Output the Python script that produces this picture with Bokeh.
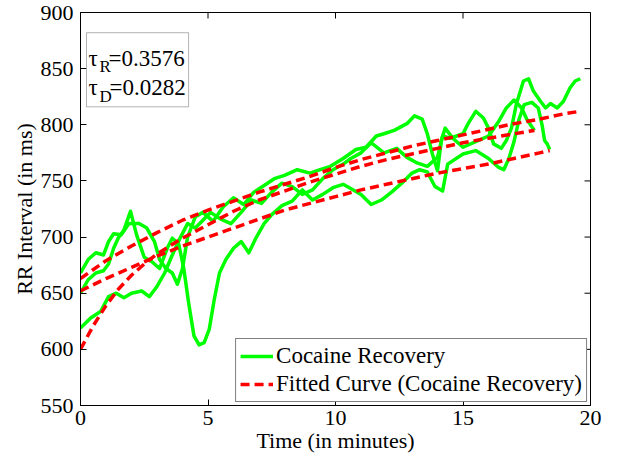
import math
from bokeh.plotting import figure
from bokeh.models import (Range1d, FixedTicker, Legend, LegendItem,
                          BoxAnnotation, Label)
from bokeh.embed import file_html
from bokeh.resources import INLINE

# ---------------- data ----------------
x_ticks = [0, 5, 10, 15, 20]
y_ticks = [550, 600, 650, 700, 750, 800, 850, 900]

# green recordings
t_g1 = [0, 0.3, 0.6, 0.9, 1.1, 1.3, 1.5, 1.7, 1.96, 2.2, 2.5, 2.8, 3.1, 3.4, 3.6, 3.85,
        4.05, 4.25, 4.45, 4.65, 4.85, 5.05, 5.25, 5.45, 5.7, 6.0, 6.3, 6.6, 6.9, 7.2,
        7.5, 7.9, 8.3, 8.7, 9.1, 9.5, 9.9, 10.3, 10.7, 11.0, 11.4, 11.8, 12.2, 12.6,
        13.0, 13.3, 13.6, 13.9, 14.2, 14.4, 15.0, 15.5, 16.0, 16.4, 16.6, 16.8, 17.0,
        17.2, 17.4, 17.7, 17.95, 18.1, 18.2, 18.3, 18.4]
rr_g1 = [650, 662, 668, 670, 676, 690, 700, 706, 723, 702, 682, 678, 672, 690, 699, 694,
         672, 640, 612, 604, 606, 618, 645, 668, 680, 690, 696, 686, 700, 712,
         720, 728, 732, 742, 733, 738, 744, 747, 742, 738, 729, 733, 740, 748,
         757, 760, 758, 745, 741, 765, 774, 777, 770, 762, 760, 770, 785,
         805, 818, 820, 815, 800, 786, 783, 778]

t_g2 = [0, 0.3, 0.6, 0.9, 1.1, 1.3, 1.6, 1.9, 2.3, 2.6, 2.9, 3.1, 3.35, 3.6, 3.8, 4.0,
        4.2, 4.5, 4.8, 5.2, 5.6, 6.0, 6.4, 6.8, 7.2, 7.6, 8.0, 8.5, 9.0, 9.4, 9.8,
        10.3, 10.8, 11.2, 11.6, 11.9, 12.3, 12.8, 13.1, 13.4, 13.6, 13.8, 14.0, 14.15,
        14.3, 14.6, 15.0, 15.5, 16.0, 16.4, 16.7, 17.0, 17.3, 17.5, 17.8]
rr_g2 = [668, 680, 686, 684, 696, 703, 702, 712, 712, 708, 696, 680, 672, 668, 658, 672,
         700, 718, 722, 714, 727, 735, 729, 740, 746, 752, 755, 760, 757, 760, 763,
         770, 778, 780, 790, 792, 795, 801, 808, 805, 792, 774, 759, 786,
         797, 788, 780, 785, 790, 803, 815, 822, 815, 805, 795]

t_g3 = [0, 0.4, 0.8, 1.1, 1.4, 1.7, 2.0, 2.4, 2.7, 3.0, 3.3, 3.6, 3.9, 4.2, 4.5, 4.8,
        5.1, 5.5, 5.9, 6.3, 6.7, 7.1, 7.5, 7.9, 8.3, 8.7, 9.1, 9.5, 9.9, 10.3, 10.6,
        11.0, 11.4, 11.9, 12.4, 12.8, 13.2, 13.6, 14.0, 14.2, 14.5, 15.0, 15.2, 15.5,
        15.8, 16.0, 16.2, 16.5, 16.7, 16.9, 17.1, 17.37, 17.57, 17.76, 18.04, 18.24,
        18.43, 18.7, 18.94, 19.2, 19.4, 19.6]
rr_g3 = [619, 628, 634, 647, 650, 646, 650, 652, 647, 656, 668, 684, 699, 712, 708, 715,
         722, 716, 712, 722, 733, 730, 740, 748, 745, 738, 742, 752, 760, 765, 770,
         775, 784, 775, 779, 771, 766, 763, 771, 790, 788, 792, 801, 812,
         806, 797, 783, 779, 786, 797, 819, 839, 841, 830, 821, 815,
         819, 815, 821, 833, 839, 841]

# red fitted curves
t_f1 = [0, 1, 2, 3, 4, 5, 6, 7, 8, 9, 10, 11, 12, 13, 14, 15, 16, 17, 18, 19, 19.6]
rr_f1 = [663, 679, 692, 704, 715, 724, 732, 740, 747, 754, 762, 769, 775, 781, 786, 791,
         796, 801, 805, 810, 812]

t_f2 = [0, 1, 2, 3, 4, 5, 6, 7, 8, 9, 10, 11, 12, 13, 14, 15, 16, 17, 18, 18.4]
rr_f2 = [652, 663, 673, 683, 692, 700, 708, 716, 724, 730, 736, 742, 747, 752, 757, 761,
         765, 770, 775, 777]

t_f3 = [0, 0.5, 1, 1.5, 2, 2.5, 3, 3.5, 4, 5, 6, 7, 8, 9, 10, 11, 12, 13, 14, 15, 16,
        17, 17.8]
rr_f3 = [600, 621, 639, 654, 666, 676, 685, 692, 699, 711, 723, 733, 741, 749, 756, 763,
         769, 774, 779, 784, 788, 792, 795]

# ---------------- figure ----------------
FONT = "Liberation Serif"
GREEN = "#00ff00"
RED = "#ff0000"
X0, X1 = 0, 20
Y0, Y1 = 550, 900

p = figure(width=618, height=455, output_backend="svg", toolbar_location=None,
           x_range=Range1d(X0, X1), y_range=Range1d(Y0, Y1),
           min_border_left=80, min_border_right=28, min_border_top=12,
           min_border_bottom=45)
p.background_fill_color = "white"
p.border_fill_color = "white"
p.outline_line_color = "black"
p.outline_line_width = 1
p.grid.visible = False

for ax, ticks in ((p.xaxis[0], x_ticks), (p.yaxis[0], y_ticks)):
    ax.ticker = FixedTicker(ticks=ticks)
    ax.major_tick_in = 6
    ax.major_tick_out = 0
    ax.minor_tick_in = 0
    ax.minor_tick_out = 0
    ax.axis_line_color = "black"
    ax.major_tick_line_color = "black"
    ax.major_label_text_font = FONT
    ax.major_label_text_font_size = "22px"
    ax.major_label_text_color = "black"
    ax.axis_label_text_font = FONT
    ax.axis_label_text_font_size = "22px"
    ax.axis_label_text_font_style = "normal"
    ax.axis_label_text_color = "black"

p.xaxis.axis_label = "Time (in minutes)"
p.yaxis.axis_label = "RR Interval (in ms)"
p.xaxis.major_label_standoff = 5
p.xaxis.axis_label_standoff = 0
p.yaxis.major_label_standoff = 7
p.yaxis.axis_label_standoff = 1

# inward tick marks on the top and right edges (half of each dash is clipped)
p.scatter(x_ticks, [Y1] * len(x_ticks), marker="dash", angle=math.pi / 2, size=12,
          line_color="black", line_width=1)
p.scatter([X1] * len(y_ticks), y_ticks, marker="dash", size=12,
          line_color="black", line_width=1)

# green data
g_renderers = []
for t, rr in ((t_g1, rr_g1), (t_g2, rr_g2), (t_g3, rr_g3)):
    g_renderers.append(p.line(t, rr, line_color=GREEN, line_width=3.5, line_join="round"))

# red fitted curves
r_renderers = []
for t, rr in ((t_f1, rr_f1), (t_f2, rr_f2), (t_f3, rr_f3)):
    r_renderers.append(p.line(t, rr, line_color=RED, line_width=3.5, line_dash="9 5"))

legend = Legend(items=[LegendItem(label="Cocaine Recovery", renderers=[g_renderers[0]]),
                       LegendItem(label="Fitted Curve (Cocaine Recovery)", renderers=[r_renderers[0]])],
                location="bottom_right")
legend.margin = 3
legend.padding = 4
legend.spacing = 2
legend.label_height = 22
legend.glyph_height = 22
legend.glyph_width = 33
legend.label_standoff = 3
legend.label_text_font = FONT
legend.label_text_font_size = "23px"
legend.label_text_color = "black"
legend.border_line_color = "black"
legend.border_line_width = 1
legend.background_fill_alpha = 1
p.add_layout(legend)

# tau box
box = BoxAnnotation(left=0.235, right=4.24, top=882, bottom=816,
                    fill_color="white", fill_alpha=1, line_color="black", line_width=1)
p.add_layout(box)

label_specs = [
    ("τ", 0.31, 858.9, "23px"), ("R", 0.745, 851.8, "17px"), ("=0.3576", 1.10, 858.9, "23px"),
    ("τ", 0.31, 833.0, "23px"), ("D", 0.745, 825.0, "17px"), ("=0.0282", 1.14, 833.0, "23px"),
]
for txt, lx, ly, fs in label_specs:
    p.add_layout(Label(x=lx, y=ly, text=txt, text_font=FONT, text_font_size=fs,
                       text_color="black", text_baseline="alphabetic"))

open("out.html", "w").write(file_html(p, INLINE))
